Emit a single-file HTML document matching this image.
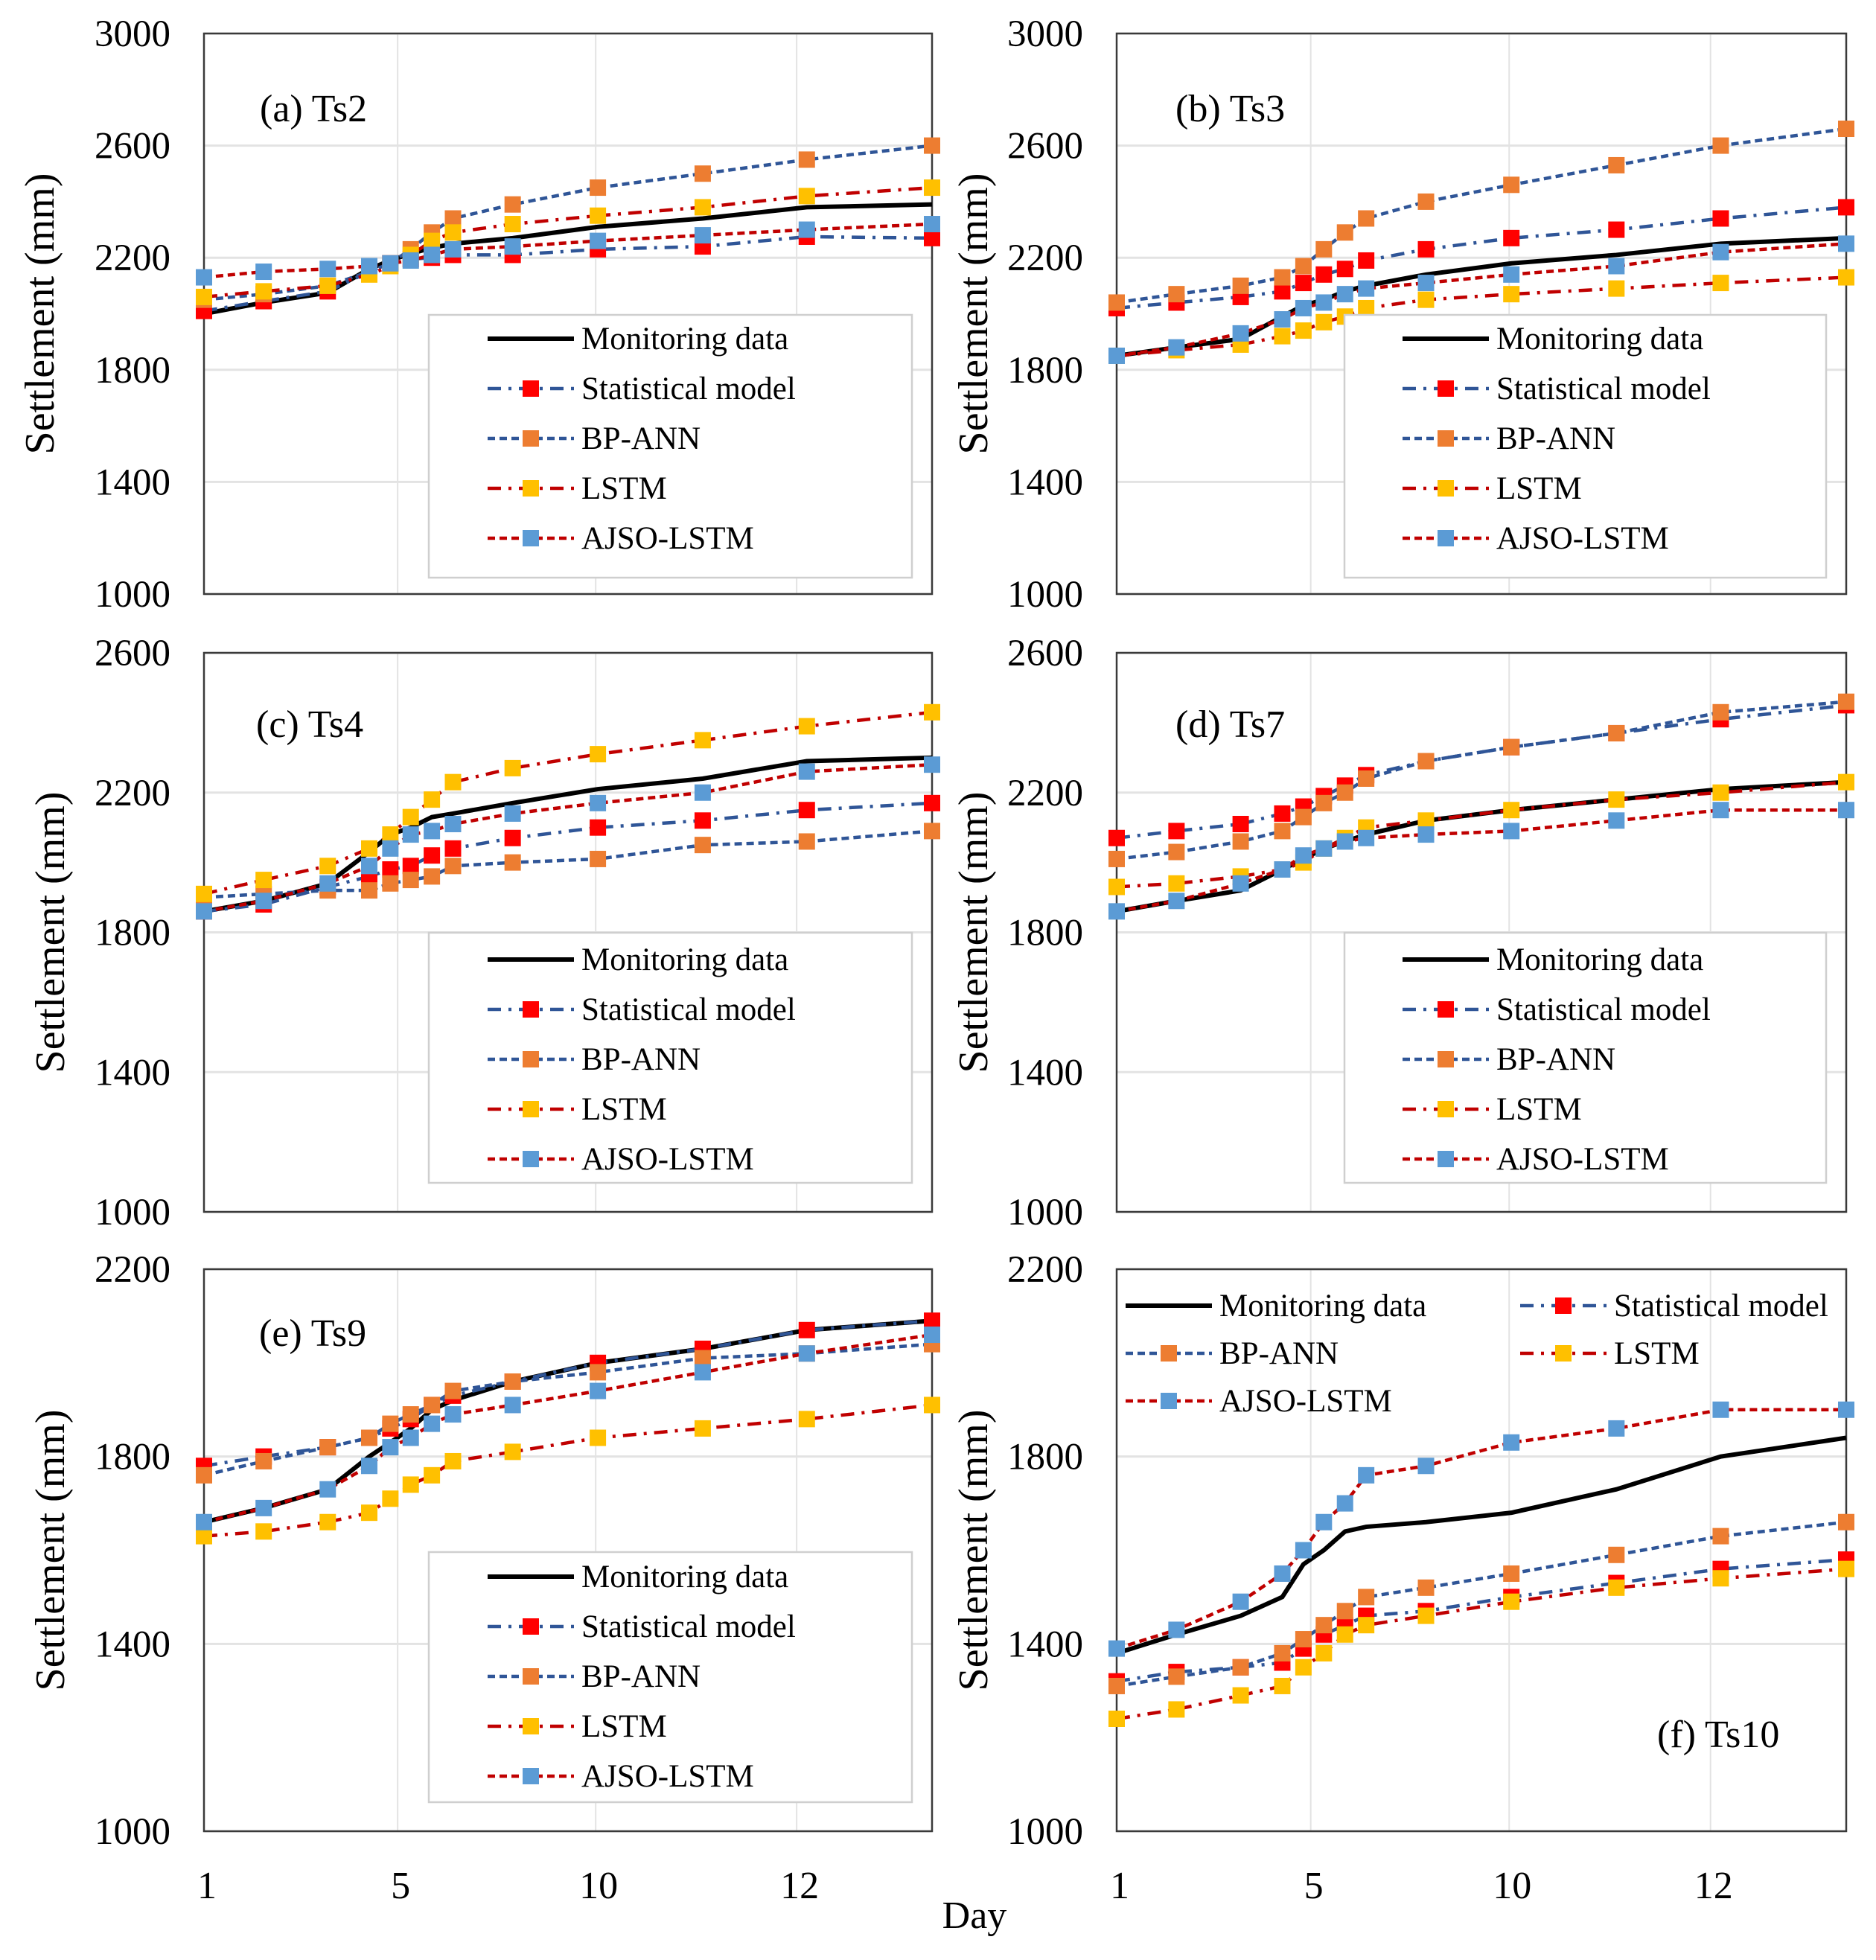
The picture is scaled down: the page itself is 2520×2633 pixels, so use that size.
<!DOCTYPE html>
<html><head><meta charset="utf-8"><style>
html,body{margin:0;padding:0;background:#fff;}
svg{display:block;font-family:"Liberation Serif",serif;}
</style></head><body>
<svg id="chart" width="2520" height="2633" viewBox="0 0 2520 2633" xmlns="http://www.w3.org/2000/svg"></svg>
<script>
// x positions along the (non-uniform) day axis, as fraction of axis
const dayFrac = [0,0.082,0.17,0.227,0.256,0.284,0.313,0.342,0.424,0.541,0.685,0.828,1];
const xTickLabels = ["1","5","10","12"];
const xTickFrac = [0,0.266,0.538,0.814];

const monA=[2000,2040,2075,2160,2190,2215,2235,2250,2270,2310,2340,2380,2390];
const statA=[2010,2045,2080,2150,2180,2195,2200,2210,2210,2230,2240,2275,2270];
const bpA=[2050,2070,2100,2150,2180,2230,2290,2340,2390,2450,2500,2550,2600];
const lstmA=[2060,2080,2100,2140,2170,2210,2260,2290,2320,2350,2380,2420,2450];
const ajsoA=[2130,2150,2160,2170,2180,2190,2210,2230,2240,2260,2280,2300,2320];

const monB=[1850,1880,1910,1990,2030,2050,2080,2100,2140,2180,2210,2250,2270];
const statB=[2020,2040,2060,2080,2110,2140,2160,2190,2230,2270,2300,2340,2380];
const bpB=[2040,2070,2100,2130,2170,2230,2290,2340,2400,2460,2530,2600,2660];
const lstmB=[1850,1870,1890,1920,1940,1970,1990,2020,2050,2070,2090,2110,2130];
const ajsoB=[1850,1880,1930,1980,2020,2040,2070,2090,2110,2140,2170,2220,2250];

const monC=[1860,1890,1940,2030,2080,2100,2130,2140,2170,2210,2240,2290,2300];
const statC=[1860,1880,1930,1960,1980,1990,2020,2040,2070,2100,2120,2150,2170];
const bpC=[1900,1910,1920,1920,1940,1950,1960,1990,2000,2010,2050,2060,2090];
const lstmC=[1910,1950,1990,2040,2080,2130,2180,2230,2270,2310,2350,2390,2430];
const ajsoC=[1860,1890,1940,1990,2040,2080,2090,2110,2140,2170,2200,2260,2280];

const monD=[1860,1890,1920,1980,2010,2040,2060,2080,2120,2150,2180,2210,2230];
const statD=[2070,2090,2110,2140,2160,2190,2220,2250,2290,2330,2370,2410,2450];
const bpD=[2010,2030,2060,2090,2130,2170,2200,2240,2290,2330,2370,2430,2460];
const lstmD=[1930,1940,1960,1980,2000,2040,2070,2100,2120,2150,2180,2200,2230];
const ajsoD=[1860,1890,1940,1980,2020,2040,2060,2070,2080,2090,2120,2150,2150];

const monE=[1660,1690,1730,1800,1830,1860,1900,1920,1960,2000,2030,2070,2090];
const statE=[1780,1800,1820,1840,1860,1880,1910,1930,1960,2000,2030,2070,2090];
const bpE=[1760,1790,1820,1840,1870,1890,1910,1940,1960,1980,2010,2020,2040];
const lstmE=[1630,1640,1660,1680,1710,1740,1760,1790,1810,1840,1860,1880,1910];
const ajsoE=[1660,1690,1730,1780,1820,1840,1870,1890,1910,1940,1980,2020,2060];

const monF=[1380,1420,1460,1500,1570,1600,1640,1650,1660,1680,1730,1800,1840];
const statF=[1320,1340,1350,1360,1390,1420,1440,1460,1470,1500,1530,1560,1580];
const bpF=[1310,1330,1350,1380,1410,1440,1470,1500,1520,1550,1590,1630,1660];
const lstmF=[1240,1260,1290,1310,1350,1380,1420,1440,1460,1490,1520,1540,1560];
const ajsoF=[1390,1430,1490,1550,1600,1660,1700,1760,1780,1830,1860,1900,1900];

const yTicksTop=[1000,1400,1800,2200,2600,3000];
const yTicksMid=[1000,1400,1800,2200,2600];
const yTicksBot=[1000,1400,1800,2200];

const NS="http://www.w3.org/2000/svg";
const svg=document.getElementById('chart');
function el(tag,attrs,parent){const e=document.createElementNS(NS,tag);for(const k in attrs)e.setAttribute(k,attrs[k]);(parent||svg).appendChild(e);return e;}

const styles={
 stat:{line:"#2f5597",dash:"18,10,4,10",mk:"#ff0000",name:"Statistical model"},
 bp:{line:"#2f5597",dash:"10,6",mk:"#ed7d31",name:"BP-ANN"},
 lstm:{line:"#c00000",dash:"18,10,4,10",mk:"#ffc000",name:"LSTM"},
 ajso:{line:"#c00000",dash:"10,6",mk:"#5b9bd5",name:"AJSO-LSTM"}
};

function panel(cfg){
 const g=el('g',{});
 
 
 const L=cfg.x0,R=cfg.x1,T=cfg.y0,B=cfg.y1;
 const ymin=cfg.ticks[0],ymax=cfg.ticks[cfg.ticks.length-1];
 const xs=f=>L+f*(R-L);
 const ys=v=>B-(v-ymin)/(ymax-ymin)*(B-T);
 cfg.ticks.forEach(t=>{
  const gl=el('line',{x1:L,x2:R,y1:ys(t),y2:ys(t),stroke:"#e3e3e3","stroke-width":3},g);
  
  
  const tl=el('text',{x:L-45,y:ys(t)+17,"text-anchor":"end","font-size":51,fill:"#000"},g);
  tl.textContent=t;
  
  
 });
 xTickFrac.forEach((f,i)=>{
  if(i>0){const vl=el('line',{x1:xs(f),x2:xs(f),y1:T,y2:B,stroke:"#e3e3e3","stroke-width":2},g);
  
  }
 });
 if(cfg.xlabels){
  xTickFrac.forEach((f,i)=>{
   const t=el('text',{x:xs(f)+4,y:2550,"text-anchor":"middle","font-size":52},g);
   t.textContent=xTickLabels[i];
   
   
  });
 }
 const fr=el('rect',{x:L,y:T,width:R-L,height:B-T,fill:"none",stroke:"#3a3a3a","stroke-width":2.5},g);
 
 
 const yt=el('text',{transform:`translate(${cfg.titleX},${(T+B)/2}) rotate(-90)`,"text-anchor":"middle","font-size":56},g);
 yt.textContent="Settlement (mm)";
 
 
 const pts=cfg.mon.map((v,i)=>xs(dayFrac[i])+","+ys(v)).join(" ");
 const ml=el('polyline',{points:pts,fill:"none",stroke:"#000","stroke-width":6},g);
 
 
 ["stat","bp","lstm","ajso"].forEach(k=>{
  const st=styles[k],data=cfg[k];
  const p=data.map((v,i)=>xs(dayFrac[i])+","+ys(v)).join(" ");
  const pl=el('polyline',{points:p,fill:"none",stroke:st.line,"stroke-width":4.5,"stroke-dasharray":st.dash},g);
  
  
  data.forEach((v,i)=>{
   const m=el('rect',{x:xs(dayFrac[i])-11,y:ys(v)-11,width:22,height:22,fill:st.mk},g);
   
   
  });
 });
 const lab=el('text',{x:cfg.lx,y:cfg.ly,"font-size":52},g);
 lab.textContent=cfg.label;
 
 
 const lg=el('g',{},g);
 
 
 const entries=[{k:"mon",name:"Monitoring data"},{k:"stat"},{k:"bp"},{k:"lstm"},{k:"ajso"}];
 if(cfg.legendBox){
  const b=cfg.legendBox;
  const br=el('rect',{x:b[0],y:b[1],width:b[2],height:b[3],fill:"#fff",stroke:"#cfcfcf","stroke-width":2.5},lg);
  
  
 }
 entries.forEach((e,i)=>{
  const pos=cfg.legendPos(i);
  const lx=pos[0],ly=pos[1];
  const w=cfg.legendW;
  if(e.k==="mon"){
   el('line',{x1:lx,x2:lx+w,y1:ly,y2:ly,stroke:"#000","stroke-width":6},lg);
  } else {
   const st=styles[e.k];
   el('line',{x1:lx,x2:lx+w,y1:ly,y2:ly,stroke:st.line,"stroke-width":4.5,"stroke-dasharray":st.dash},lg);
   el('rect',{x:lx+w/2-11,y:ly-11,width:22,height:22,fill:st.mk},lg);
  }
  const t=el('text',{x:lx+w+10,y:ly+14,"font-size":43},lg);
  t.textContent=e.name||styles[e.k].name;
  
  
 });
}

const stdPos=(bx,by)=>i=>[bx,by+i*67];
panel({name:"panel-a-ts2",x0:274,x1:1252,y0:45,y1:798,ticks:yTicksTop,titleX:72,mon:monA,stat:statA,bp:bpA,lstm:lstmA,ajso:ajsoA,label:"(a) Ts2",lx:349,ly:163,legendBox:[576,423,649,353],legendPos:stdPos(655,455),legendW:116});
panel({name:"panel-b-ts3",x0:1500,x1:2480,y0:45,y1:798,ticks:yTicksTop,titleX:1326,mon:monB,stat:statB,bp:bpB,lstm:lstmB,ajso:ajsoB,label:"(b) Ts3",lx:1579,ly:163,legendBox:[1806,423,647,353],legendPos:stdPos(1884,455),legendW:116});
panel({name:"panel-c-ts4",x0:274,x1:1252,y0:877,y1:1628,ticks:yTicksMid,titleX:86,mon:monC,stat:statC,bp:bpC,lstm:lstmC,ajso:ajsoC,label:"(c) Ts4",lx:344,ly:990,legendBox:[576,1253,649,336],legendPos:stdPos(655,1289),legendW:116});
panel({name:"panel-d-ts7",x0:1500,x1:2480,y0:877,y1:1628,ticks:yTicksMid,titleX:1326,mon:monD,stat:statD,bp:bpD,lstm:lstmD,ajso:ajsoD,label:"(d) Ts7",lx:1579,ly:990,legendBox:[1806,1253,647,336],legendPos:stdPos(1884,1289),legendW:116});
panel({name:"panel-e-ts9",x0:274,x1:1252,y0:1705,y1:2460,ticks:yTicksBot,titleX:86,mon:monE,stat:statE,bp:bpE,lstm:lstmE,ajso:ajsoE,label:"(e) Ts9",lx:348,ly:1808,xlabels:true,legendBox:[576,2085,649,336],legendPos:stdPos(655,2118),legendW:116});
panel({name:"panel-f-ts10",x0:1500,x1:2480,y0:1705,y1:2460,ticks:yTicksBot,titleX:1326,mon:monF,stat:statF,bp:bpF,lstm:lstmF,ajso:ajsoF,label:"(f) Ts10",lx:2226,ly:2347,xlabels:true,legendPos:i=>[[1512,1754],[2042,1754],[1512,1818],[2042,1818],[1512,1882]][i],legendW:116});

const day=el('text',{x:1309,y:2590,"text-anchor":"middle","font-size":52});
day.textContent="Day";


</script>
</body></html>
